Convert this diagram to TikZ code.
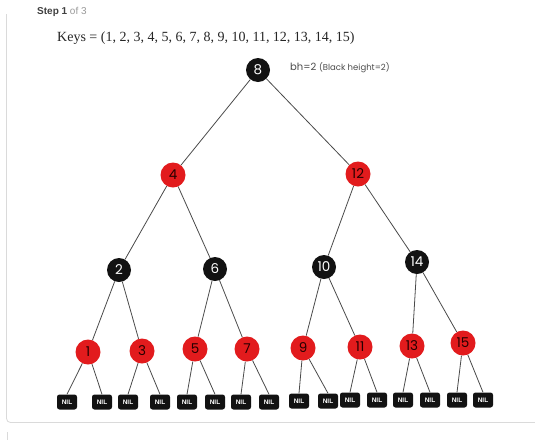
\documentclass[tikz,border=0pt]{standalone}
\usepackage{fontspec}
\setmainfont{Liberation Serif}
\newfontfamily\nodefont{Poppins}
\newfontfamily\uifont{Liberation Sans}
\definecolor{rbred}{HTML}{E21B1D}
\definecolor{rbblack}{HTML}{121212}
\definecolor{edgegray}{HTML}{4A4A4A}
\definecolor{framegray}{HTML}{DADADA}
\tikzset{
  blk/.style={circle,fill=rbblack,text=white,minimum size=24pt,inner sep=0pt,font=\nodefont\fontsize{13.5}{14}\selectfont},
  red/.style={circle,fill=rbred,text=black!85!red,minimum size=25pt,inner sep=0pt,font=\nodefont\fontsize{13.5}{14}\selectfont},
  nilbox/.style={rectangle,rounded corners=2.5pt,fill=rbblack,text=white,minimum width=20pt,minimum height=15pt,inner sep=0pt,font=\uifont\bfseries\fontsize{6.5}{7}\selectfont},
  edge/.style={draw=edgegray,line width=0.8pt}
}
\begin{document}
\begin{tikzpicture}[x=1pt,y=-1pt]
\useasboundingbox (0,0) rectangle (535,440);
\fill[white] (0,0) rectangle (535,440);
% frame
\draw[framegray,line width=0.8pt,rounded corners=4pt] (6.5,14) -- (6.5,422.5) -- (535,422.5);
\draw[framegray,line width=0.8pt] (7,432) -- (7,440);
% header texts
\node[anchor=west,inner sep=0pt,font=\uifont\fontsize{10}{11}\selectfont] (step) at (37,12) {\textbf{\color{black!75}Step 1} \color{black!40}of 3};
\node[anchor=west,inner sep=0pt,font=\fontsize{14}{16}\selectfont,text=black!85] (keys) at (57,38) {Keys = (1, 2, 3, 4, 5, 6, 7, 8, 9, 10, 11, 12, 13, 14, 15)};
\node[anchor=west,inner sep=0pt,text=black!70] (bh) at (290,68) {\nodefont\fontsize{10}{11}\selectfont bh=2 \fontsize{8.5}{9}\selectfont(Black height=2)};
% tree nodes
\node[blk] (n8) at (258,70) {8};
\node[red] (n4) at (173,175) {4};
\node[red] (n12) at (358,174) {12};
\node[blk] (n2) at (119,270) {2};
\node[blk] (n6) at (215,269) {6};
\node[blk] (n10) at (324,267) {10};
\node[blk] (n14) at (417,262) {14};
\node[red] (n1) at (88,352) {1};
\node[red] (n3) at (142,351) {3};
\node[red] (n5) at (195,349) {5};
\node[red] (n7) at (247,349) {7};
\node[red] (n9) at (303,348) {9};
\node[red] (n11) at (360,347) {11};
\node[red] (n13) at (412,346) {13};
\node[red] (n15) at (463,343) {15};
% NIL leaves
\node[nilbox] (l1) at (67,402) {NIL};
\node[nilbox] (l2) at (102,402) {NIL};
\node[nilbox] (l3) at (128,402) {NIL};
\node[nilbox] (l4) at (160,402) {NIL};
\node[nilbox] (l5) at (187,402) {NIL};
\node[nilbox] (l6) at (215,402) {NIL};
\node[nilbox] (l7) at (241,402) {NIL};
\node[nilbox] (l8) at (269,402) {NIL};
\node[nilbox] (l9) at (299,401) {NIL};
\node[nilbox] (l10) at (328,401) {NIL};
\node[nilbox] (l11) at (350,400) {NIL};
\node[nilbox] (l12) at (377,400) {NIL};
\node[nilbox] (l13) at (403,400) {NIL};
\node[nilbox] (l14) at (430,400) {NIL};
\node[nilbox] (l15) at (457,400) {NIL};
\node[nilbox] (l16) at (483,400) {NIL};
% edges
\path[edge] (n8) -- (n4);
\path[edge] (n8) -- (n12);
\path[edge] (n4) -- (n2);
\path[edge] (n4) -- (n6);
\path[edge] (n12) -- (n10);
\path[edge] (n12) -- (n14);
\path[edge] (n2) -- (n1);
\path[edge] (n2) -- (n3);
\path[edge] (n6) -- (n5);
\path[edge] (n6) -- (n7);
\path[edge] (n10) -- (n9);
\path[edge] (n10) -- (n11);
\path[edge] (n14) -- (n13);
\path[edge] (n14) -- (n15);
\path[edge] (n1) -- (l1.north);
\path[edge] (n1) -- (l2.north);
\path[edge] (n3) -- (l3.north);
\path[edge] (n3) -- (l4.north);
\path[edge] (n5) -- (l5.north);
\path[edge] (n5) -- (l6.north);
\path[edge] (n7) -- (l7.north);
\path[edge] (n7) -- (l8.north);
\path[edge] (n9) -- (l9.north);
\path[edge] (n9) -- (l10.north);
\path[edge] (n11) -- (l11.north);
\path[edge] (n11) -- (l12.north);
\path[edge] (n13) -- (l13.north);
\path[edge] (n13) -- (l14.north);
\path[edge] (n15) -- (l15.north);
\path[edge] (n15) -- (l16.north);
\end{tikzpicture}
\end{document}
